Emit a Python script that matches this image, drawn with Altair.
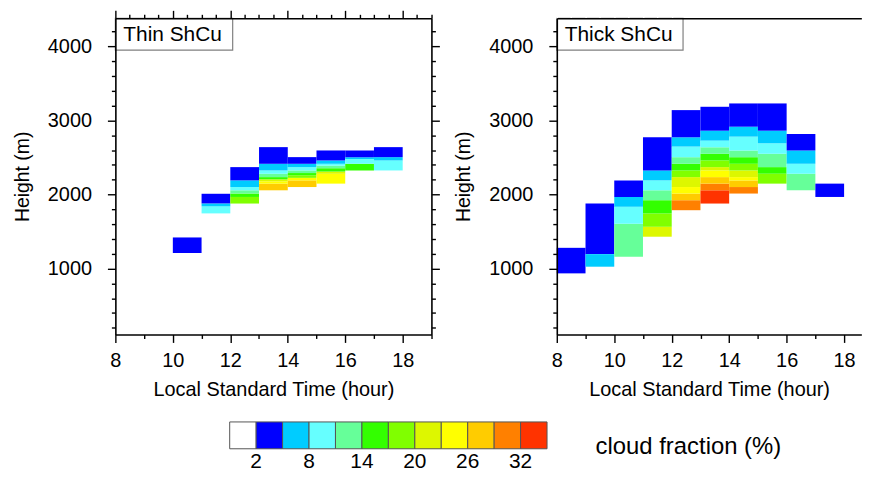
import altair as alt
import pandas as pd

FONT = "Liberation Sans"

# colour levels (cloud fraction, %)
levels = [2, 5, 8, 11, 14, 17, 20, 23, 26, 29, 32]
palette = ["#FFFFFF", "#0000FF", "#00CCFF", "#66FFFF", "#66FF99", "#33FF00",
           "#80FF00", "#DDF700", "#FFFF00", "#FFCC00", "#FF8000", "#FF3300"]
legend_labels = ["2", "8", "14", "20", "26", "32"]

# ---- Thin ShCu: per hour, layer edges (m, bottom-up) and cloud fraction (%) per layer
thin_hours = [10, 11, 12, 13, 14, 15, 16, 17]
thin_edges = [
    [1210, 1420],
    [1745, 1840, 1880, 2010],
    [1878, 1967, 2013, 2057, 2101, 2191, 2370],
    [2057, 2147, 2178, 2205, 2235, 2280, 2325, 2415, 2640],
    [2101, 2191, 2225, 2260, 2290, 2325, 2370, 2415, 2505],
    [2147, 2280, 2310, 2355, 2390, 2415, 2460, 2595],
    [2325, 2415, 2480, 2505, 2595],
    [2325, 2460, 2505, 2640],
]
thin_cf = [
    [3.5],
    [9.5, 6.5, 3.5],
    [18.5, 15.5, 12.5, 9.5, 6.5, 3.5],
    [27.5, 24.5, 21.5, 15.5, 12.5, 9.5, 6.5, 3.5],
    [27.5, 24.5, 18.5, 15.5, 12.5, 9.5, 6.5, 3.5],
    [24.5, 21.5, 15.5, 12.5, 9.5, 6.5, 3.5],
    [15.5, 9.5, 6.5, 3.5],
    [9.5, 6.5, 3.5],
]

# ---- Thick ShCu
thick_hours = [8, 9, 10, 11, 12, 13, 14, 15, 16, 17]
thick_edges = [
    [935, 1280],
    [1025, 1195, 1880],
    [1160, 1605, 1835, 1965, 2190],
    [1430, 1564, 1744, 1923, 2057, 2191, 2325, 2773],
    [1788, 1923, 2013, 2101, 2235, 2325, 2415, 2504, 2648, 2773, 3140],
    [1878, 2057, 2147, 2235, 2325, 2370, 2460, 2550, 2638, 2728, 2862, 3185],
    [2013, 2101, 2190, 2235, 2325, 2415, 2504, 2594, 2782, 2916, 3230],
    [2147, 2281, 2370, 2550, 2692, 2862, 3230],
    [2057, 2281, 2415, 2594, 2818],
    [1967, 2147],
]
thick_cf = [
    [3.5],
    [6.5, 3.5],
    [12.5, 9.5, 6.5, 3.5],
    [21.5, 18.5, 15.5, 12.5, 9.5, 6.5, 3.5],
    [30.5, 27.5, 24.5, 21.5, 18.5, 15.5, 12.5, 9.5, 6.5, 3.5],
    [33.5, 30.5, 27.5, 24.5, 21.5, 18.5, 15.5, 12.5, 9.5, 6.5, 3.5],
    [30.5, 27.5, 24.5, 21.5, 18.5, 15.5, 12.5, 9.5, 6.5, 3.5],
    [18.5, 15.5, 12.5, 9.5, 6.5, 3.5],
    [12.5, 9.5, 6.5, 3.5],
    [3.5],
]


def to_frame(hours, edges, cfs):
    rows = []
    for h, e, c in zip(hours, edges, cfs):
        for i, v in enumerate(c):
            rows.append({"t0": h, "t1": h + 1, "z0": e[i], "z1": e[i + 1], "cf": v})
    return pd.DataFrame(rows)


color_scale = alt.Scale(type="threshold", domain=levels, range=palette)
Y_DOMAIN = [110, 4380]
y_vals = list(range(200, 4201, 200))

MAJ = 8
MIN = 4

common_axis = dict(
    grid=False, domainColor="black", domainWidth=1.6, tickColor="black",
    tickWidth=1.4, labelFont=FONT, titleFont=FONT, labelColor="black",
    titleColor="black", zindex=1, labelFlush=False, labelBound=False,
    labelOverlap=False, titleFontWeight="normal",
)


def panel(df, title, xmax, right_axis, top_ticks, box_w):
    x_vals = [8 + 0.5 * i for i in range(int((xmax - 8) * 2) + 1)]
    xs = alt.Scale(domain=[8, xmax], nice=False, zero=False)
    ys = alt.Scale(domain=Y_DOMAIN, nice=False, zero=False)
    xtick = {"condition": {"test": "datum.value % 2 == 0", "value": MAJ}, "value": MIN}
    ytick = {"condition": {"test": "datum.value % 1000 == 0", "value": MAJ}, "value": MIN}

    x_bottom = alt.Axis(orient="bottom", values=x_vals, tickSize=xtick, format="d",
                        labelExpr="datum.value % 2 == 0 ? datum.label : ''",
                        labelFontSize=20, labelPadding=8,
                        title="Local Standard Time (hour)", titleFontSize=20,
                        titlePadding=9, **common_axis)
    y_left = alt.Axis(orient="left", values=y_vals, tickSize=ytick,
                      labelExpr="datum.value % 1000 == 0 ? datum.label : ''",
                      labelFontSize=20, labelPadding=16, format="d",
                      title="Height (m)", titleFontSize=19.5, titlePadding=15,
                      **common_axis)
    top_kw = dict(common_axis)
    if not top_ticks:
        top_kw["tickColor"] = "white"
    x_top = alt.Axis(orient="top", values=x_vals, tickSize=xtick, labels=False,
                     title=None, **top_kw)

    cells = alt.Chart(df).mark_rect(strokeWidth=0).encode(
        x=alt.X("t0:Q", scale=xs, axis=x_bottom),
        x2="t1:Q",
        y=alt.Y("z0:Q", scale=ys, axis=y_left),
        y2="z1:Q",
        color=alt.Color("cf:Q", scale=color_scale, legend=None),
    )
    if right_axis:
        ghost = alt.Chart(df).mark_point(opacity=0).encode(
            x=alt.X("t0:Q", scale=xs, axis=x_top),
            y=alt.Y("z0:Q", scale=ys, axis=alt.Axis(
                orient="right", values=y_vals, tickSize=ytick, labels=False,
                title=None, **common_axis)),
        )
    else:
        ghost = alt.Chart(df).mark_point(opacity=0).encode(
            x=alt.X("t0:Q", scale=xs, axis=x_top),
            y=alt.value(100),
        )
    lab = pd.DataFrame({"label": [title]})
    box = alt.Chart(lab).mark_rect(fill="white", stroke="#808080", strokeWidth=1.2).encode(
        x=alt.value(0), x2=alt.value(box_w), y=alt.value(0), y2=alt.value(32))
    txt = alt.Chart(lab).mark_text(align="left", baseline="middle", font=FONT,
                                   fontSize=21, color="black").encode(
        x=alt.value(8), y=alt.value(17), text="label:N")
    w = (xmax - 8) * 28.9
    return alt.layer(cells, ghost, box, txt).properties(width=w, height=318)


left = panel(to_frame(thin_hours, thin_edges, thin_cf), "Thin ShCu", 19, True, True, 118)
right = panel(to_frame(thick_hours, thick_edges, thick_cf), "Thick ShCu", 18.6, False, False, 127)

top = alt.hconcat(left, right, spacing=13)

# ---- colour bar legend (its origin lines up with the left plot area, x = 117)
PLOT_X = 117
U = 26.6
LEG_W = 700
x0_px = 232 - PLOT_X
leg_scale = alt.Scale(domain=[-x0_px / U, (LEG_W - x0_px) / U], nice=False, zero=False)

leg_df = pd.DataFrame({"i0": list(range(len(palette))),
                       "i1": list(range(1, len(palette) + 1)),
                       "col": palette})
lab_df = pd.DataFrame({"pos": [1 + 2 * k for k in range(len(legend_labels))],
                       "lab": legend_labels})

bar = alt.Chart(leg_df).mark_rect(stroke="#555555", strokeWidth=1).encode(
    x=alt.X("i0:Q", scale=leg_scale, axis=None), x2="i1:Q",
    y=alt.value(0), y2=alt.value(27),
    color=alt.Color("col:N", scale=None, legend=None),
)
bar_labels = alt.Chart(lab_df).mark_text(baseline="middle", font=FONT, fontSize=21,
                                         color="black").encode(
    x=alt.X("pos:Q", scale=leg_scale, axis=None), y=alt.value(40), text="lab:N")
leg_title = alt.Chart(pd.DataFrame({"t": ["cloud fraction (%)"]})).mark_text(
    align="left", baseline="middle", font=FONT, fontSize=24, color="black").encode(
    x=alt.value(600 - PLOT_X), y=alt.value(25), text="t:N")
legend = alt.layer(bar, bar_labels, leg_title).properties(width=LEG_W, height=50)

chart = alt.vconcat(top, legend, spacing=22).properties(
    padding={"left": 4, "top": 0, "right": 0, "bottom": 0}
).configure(font=FONT).configure_view(stroke="transparent", strokeWidth=0)

chart.save("out.html", embed_options={"renderer": "svg", "actions": False})
